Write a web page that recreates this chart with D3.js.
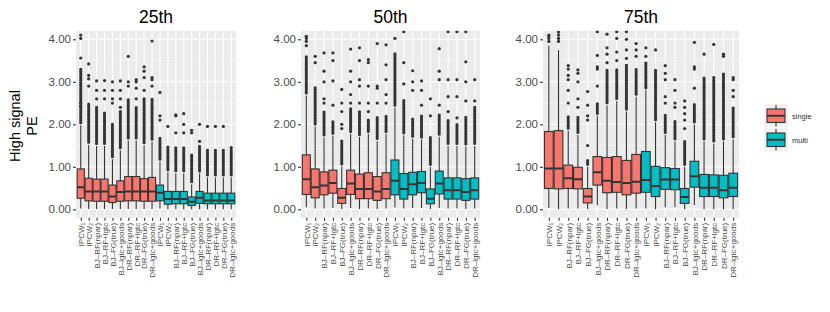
<!DOCTYPE html>
<html>
<head>
<meta charset="utf-8">
<script src="https://cdn.jsdelivr.net/npm/d3@7"></script>
<style>
body { margin:0; background:#fff; }
text { font-family: "Liberation Sans", Arial, sans-serif; }
</style>
</head>
<body>
<div id="chart"></div>
<script>
// categories
var methods = ["IPCW\u2081","IPCW\u2082","BJ\u2013RF(npar)","BJ\u2013RF+lgtc","BJ\u2013FG(true)","BJ\u2013lgtc+goods","DR\u2013RF(npar)","DR\u2013RF+lgtc","DR\u2013FG(true)","DR\u2013lgtc+goods"];
var groups = ["single","multi"];
var panelTitles = ["25th","50th","75th"];
var yTicks = [0,1,2,3,4];

// box stats per panel, 20 boxes: 10 single then 10 multi
var q1_25  = [0.26,0.20,0.19,0.19,0.16,0.19,0.20,0.20,0.19,0.19, 0.20,0.12,0.13,0.13,0.09,0.14,0.13,0.13,0.13,0.13];
var med_25 = [0.52,0.42,0.42,0.42,0.30,0.41,0.42,0.42,0.42,0.42, 0.39,0.24,0.24,0.24,0.18,0.27,0.21,0.21,0.21,0.21];
var q3_25  = [0.95,0.73,0.71,0.71,0.57,0.67,0.77,0.77,0.72,0.75, 0.57,0.42,0.42,0.42,0.29,0.42,0.38,0.38,0.38,0.38];
var lo_25  = [0.02,0.01,0.01,0.01,0.01,0.01,0.01,0.01,0.01,0.01, 0.02,0.00,0.00,0.00,0.00,0.00,0.00,0.00,0.00,0.00];
var hi_25  = [1.98,1.52,1.49,1.49,1.18,1.39,1.62,1.62,1.51,1.59, 1.12,0.87,0.85,0.85,0.59,0.84,0.75,0.75,0.75,0.75];
var dense_25 = [3.3,2.5,2.4,2.3,2.0,2.3,2.6,2.4,2.6,2.6, 1.7,1.5,1.45,1.45,1.3,1.5,1.4,1.4,1.4,1.4];
var out_25 = [[2.42,2.5,3.56,4.02,4.1],[2.9,3.07,3.15,3.42],[2.6,2.8,3.02],[2.6,2.8,3.03],[2.5,2.6,2.8,3.0],
  [2.4,2.6,2.8,3.02],[2.9,3.0,3.6],[2.6,2.85,3.0,3.05],[2.8,3.1,3.25,3.35],[2.9,3.05,3.1,3.96],
  [2.1,2.2,2.75],[1.95],[1.8,2.2,2.22],[1.8,2.0,2.25],[1.8,1.86],[1.6,2.0],[1.95],[1.95],[1.95],[1.45]];

var q1_50  = [0.35,0.27,0.34,0.38,0.14,0.35,0.25,0.25,0.21,0.25, 0.34,0.24,0.34,0.39,0.13,0.36,0.24,0.24,0.21,0.24];
var med_50 = [0.71,0.52,0.56,0.62,0.27,0.61,0.48,0.48,0.42,0.48, 0.67,0.48,0.59,0.62,0.25,0.61,0.45,0.45,0.41,0.45];
var q3_50  = [1.28,0.95,0.88,0.92,0.49,0.92,0.83,0.86,0.77,0.86, 1.16,0.84,0.87,0.89,0.48,0.90,0.74,0.74,0.72,0.74];
var lo_50  = [0.05,0.02,0.02,0.03,0.01,0.03,0.01,0.02,0.01,0.02, 0.04,0.02,0.03,0.03,0.01,0.03,0.02,0.02,0.01,0.02];
var hi_50  = [2.68,1.95,1.69,1.73,1.01,1.77,1.70,1.77,1.61,1.77, 2.39,1.74,1.66,1.64,1.00,1.71,1.49,1.49,1.48,1.49];
var dense_50 = [3.6,2.9,2.3,2.1,1.65,2.4,2.3,2.1,2.2,2.2, 3.7,2.6,2.15,2.2,1.7,2.25,2.1,2.0,2.2,2.4];
var out_50 = [[3.85,3.95,4.02,4.07],[3.45,3.6],[2.5,2.6,3.0,3.25,3.68],[2.45,3.02,3.5,3.68],[1.9,2.0,2.3,2.5,2.82],
  [2.5,2.7,3.0,3.25,3.77],[2.5,2.9,3.05,3.5,3.8],[2.3,2.5,2.9,3.45,3.52],[2.5,2.85,2.9,3.9],[2.5,2.7,3.05,3.4,3.87],
  [4.02],[2.95,3.45,4.18],[2.8,3.0,3.26],[2.45,2.8,3.02],[2.2,2.6],[2.45,3.05,3.25,3.78],[2.3,2.65,3.05,4.18],
  [2.15,2.65,3.05,4.18],[2.55,3.0,3.47,4.18],[2.55,3.05]];

var q1_75  = [0.49,0.48,0.49,0.48,0.15,0.57,0.39,0.40,0.34,0.38, 0.40,0.30,0.47,0.46,0.14,0.52,0.30,0.30,0.27,0.30];
var med_75 = [0.96,0.96,0.73,0.71,0.30,0.87,0.67,0.64,0.62,0.65, 0.69,0.55,0.70,0.70,0.29,0.78,0.51,0.51,0.45,0.51];
var q3_75  = [1.83,1.85,1.04,0.99,0.49,1.24,1.22,1.24,1.15,1.29, 1.36,1.01,0.98,0.96,0.49,1.13,0.82,0.81,0.80,0.85];
var lo_75  = [0.03,0.00,0.02,0.02,0.01,0.10,0.01,0.02,0.01,0.02, 0.02,0.00,0.05,0.05,0.00,0.10,0.00,0.00,0.00,0.00];
var hi_75  = [3.85,3.75,1.85,1.75,1.00,2.20,2.45,2.55,2.30,2.65, 2.80,2.05,1.75,1.60,1.00,2.00,1.60,1.55,1.60,1.65];
var dense_75 = [null,null,2.2,2.2,1.15,2.5,3.3,3.3,3.4,3.3, 3.45,3.3,2.25,2.1,1.6,2.5,3.1,3.05,3.2,2.4];
var out_75 = [[3.95,4.02,4.08,4.1],[3.95,4.02,4.1,4.17],[2.5,2.8,3.05,3.15,3.3,3.38],[2.4,2.6,3.0,3.2,3.28],[1.5,2.1,2.2,2.45,2.77],
  [2.9,3.3,3.35,3.62,4.18],[3.45,3.65,3.8,4.12],[3.5,3.7,4.02,4.18],[3.55,3.75,4.0,4.18],[3.6,3.75,3.9],
  [3.6,3.8],[3.75],[2.5,2.65,3.05,3.2,3.38],[2.4,2.5,2.8,3.05],[1.9,2.1,2.25,2.4,2.55],[2.85,3.3,3.35,3.93],
  [3.65],[3.1,3.88],[3.6,3.65],[2.65,2.8,3.05,3.1]];

var colors = {single:"#F8766D", multi:"#00BFC4"};

function buildBoxes(q1, med, q3, lo, hi, dense, outs){
	var boxes = [];
	for (var g = 0; g < groups.length; g++){
		for (var m = 0; m < methods.length; m++){
			var i = g*methods.length + m;
			boxes.push({key: groups[g] + "|" + methods[m], group: groups[g],
				q1: q1[i], med: med[i], q3: q3[i], lo: lo[i], hi: hi[i], dense: dense[i], outs: outs[i]});
		}
	}
	return boxes;
}

var panelData = [
	buildBoxes(q1_25, med_25, q3_25, lo_25, hi_25, dense_25, out_25),
	buildBoxes(q1_50, med_50, q3_50, lo_50, hi_50, dense_50, out_50),
	buildBoxes(q1_75, med_75, q3_75, lo_75, hi_75, dense_75, out_75)
];

var W = 830, H = 312;
var svg = d3.select("#chart").append("svg").attr("width", W).attr("height", H);

var plotTop = 30.8, plotBottom = 217.8;
var panelX = [[76,236],[301,480],[543,739]];

var y = d3.scaleLinear().domain([-0.2, 4.2]).range([plotBottom, plotTop]);

panelData.forEach(function(boxes, p){
	var x0 = panelX[p][0], x1 = panelX[p][1];
	var keys = boxes.map(function(d){ return d.key; });
	var x = d3.scalePoint().domain(keys).range([x0, x1]).padding(0.6);
	var bw = x.step() * 0.9;

	var g = svg.append("g");
	g.append("rect").attr("x", x0).attr("y", plotTop).attr("width", x1 - x0).attr("height", plotBottom - plotTop).attr("fill", "#EBEBEB");

	// minor grid
	[0.5,1.5,2.5,3.5].forEach(function(v){
		g.append("line").attr("x1", x0).attr("x2", x1).attr("y1", y(v)).attr("y2", y(v))
			.attr("stroke", "#fff").attr("stroke-width", 0.5);
	});
	yTicks.forEach(function(v){
		g.append("line").attr("x1", x0).attr("x2", x1).attr("y1", y(v)).attr("y2", y(v))
			.attr("stroke", "#fff").attr("stroke-width", 1.1);
	});
	keys.forEach(function(k){
		g.append("line").attr("x1", x(k)).attr("x2", x(k)).attr("y1", plotTop).attr("y2", plotBottom)
			.attr("stroke", "#fff").attr("stroke-width", 1.1);
	});

	var clipId = "clip" + p;
	svg.append("clipPath").attr("id", clipId).append("rect")
		.attr("x", x0).attr("y", plotTop).attr("width", x1 - x0).attr("height", plotBottom - plotTop);
	var plot = g.append("g").attr("clip-path", "url(#" + clipId + ")");

	var b = plot.selectAll(".box").data(boxes).enter().append("g").attr("class", "box");

	// dense outlier stretch
	b.filter(function(d){ return d.dense != null; })
		.append("line")
		.attr("x1", function(d){ return x(d.key); }).attr("x2", function(d){ return x(d.key); })
		.attr("y1", function(d){ return y(d.hi) - 2.5; })
		.attr("y2", function(d){ return y(d.dense); })
		.attr("stroke", "#333").attr("stroke-width", 3.2)
		.attr("stroke-linecap", "round").attr("stroke-dasharray", "0 1.9");

	b.selectAll("circle").data(function(d){ return d.outs.map(function(v){ return {k: d.key, v: v}; }); })
		.enter().append("circle")
		.attr("cx", function(d){ return x(d.k); })
		.attr("cy", function(d){ return y(d.v); })
		.attr("r", 1.6).attr("fill", "#333");

	// whiskers
	b.append("line")
		.attr("x1", function(d){ return x(d.key); }).attr("x2", function(d){ return x(d.key); })
		.attr("y1", function(d){ return y(d.lo); }).attr("y2", function(d){ return y(d.hi); })
		.attr("stroke", "#333").attr("stroke-width", 1.1);

	b.append("rect")
		.attr("x", function(d){ return x(d.key) - bw/2; })
		.attr("width", bw)
		.attr("y", function(d){ return y(d.q3); })
		.attr("height", function(d){ return y(d.q1) - y(d.q3); })
		.attr("fill", function(d){ return colors[d.group]; })
		.attr("stroke", "#333").attr("stroke-width", 1.1);

	b.append("line")
		.attr("x1", function(d){ return x(d.key) - bw/2; }).attr("x2", function(d){ return x(d.key) + bw/2; })
		.attr("y1", function(d){ return y(d.med); }).attr("y2", function(d){ return y(d.med); })
		.attr("stroke", "#333").attr("stroke-width", 2);

	// y axis
	var ya = g.append("g").attr("transform", "translate(" + x0 + ",0)")
		.call(d3.axisLeft(y).tickValues(yTicks).tickFormat(d3.format(".2f")).tickSize(3).tickPadding(2));
	ya.select(".domain").remove();
	ya.selectAll("line").attr("stroke", "#333").attr("stroke-width", 1.1);
	ya.selectAll("text").attr("fill", "#4D4D4D").style("font-size", "11.5px")
		.style("font-family", "'Liberation Sans', Arial, sans-serif");

	// x axis
	var labelOf = {};
	boxes.forEach(function(d){ labelOf[d.key] = d.key.split("|")[1]; });
	var xa = g.append("g").attr("transform", "translate(0," + plotBottom + ")")
		.call(d3.axisBottom(x).tickSize(3).tickFormat(function(k){ return labelOf[k]; }));
	xa.select(".domain").remove();
	xa.selectAll("line").attr("stroke", "#333").attr("stroke-width", 1.1);
	xa.selectAll("text")
		.attr("transform", "rotate(-90)")
		.attr("x", -5).attr("y", 0).attr("dy", "0.35em")
		.style("text-anchor", "end")
		.attr("fill", "#4D4D4D").style("font-size", "8px")
		.style("font-family", "'Liberation Sans', Arial, sans-serif");

	// title
	svg.append("text").attr("x", (x0 + x1)/2).attr("y", 22.5)
		.attr("text-anchor", "middle").style("font-size", "17.5px").attr("fill", "#000")
		.text(panelTitles[p]);
});

// y title
var yt = svg.append("text").attr("transform", "translate(0,126) rotate(-90)")
	.attr("text-anchor", "middle").style("font-size", "14.5px").attr("fill", "#000");
yt.append("tspan").attr("x", 0).attr("y", 20).text("High signal");
yt.append("tspan").attr("x", 0).attr("y", 37).text("PE");

// legend
var leg = svg.append("g");
groups.forEach(function(gname, i){
	var ky = 104 + i*24;
	leg.append("rect").attr("x", 764).attr("y", ky).attr("width", 24).attr("height", 23.5).attr("fill", "#F2F2F2");
	leg.append("line").attr("x1", 776).attr("x2", 776).attr("y1", ky + 1).attr("y2", ky + 22.5)
		.attr("stroke", "#333").attr("stroke-width", 1.1);
	leg.append("rect").attr("x", 767).attr("y", ky + 5).attr("width", 18).attr("height", 13.5)
		.attr("fill", colors[gname]).attr("stroke", "#333").attr("stroke-width", 1.1);
	leg.append("line").attr("x1", 767).attr("x2", 785).attr("y1", ky + 11.75).attr("y2", ky + 11.75)
		.attr("stroke", "#333").attr("stroke-width", 2);
	leg.append("text").attr("x", 792).attr("y", ky + 14.5).style("font-size", "7.5px").attr("fill", "#333").text(gname);
});
</script>
</body>
</html>
